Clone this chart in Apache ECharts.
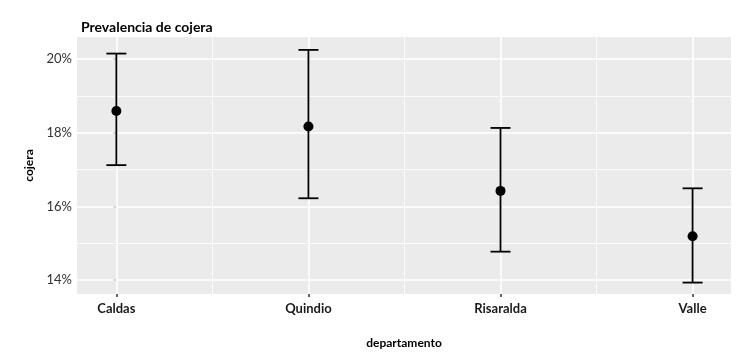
<!DOCTYPE html>
<html>
<head>
<meta charset="utf-8">
<script src="https://cdn.jsdelivr.net/npm/echarts@6/dist/echarts.min.js"></script>
<style>
  html, body { margin: 0; padding: 0; background: #fff; }
  #chart { width: 741px; height: 354px; }
</style>
</head>
<body>
<div id="chart"></div>
<script>
// data
const departamentos = ["Caldas", "Quindio", "Risaralda", "Valle"];
const prevalencia = [18.59, 18.17, 16.42, 15.19];
const limInferior = [17.12, 16.22, 14.77, 13.93];
const limSuperior = [20.15, 20.25, 18.13, 16.49];
const yTicks = [14, 16, 18, 20];
const yMinor = [15, 17, 19];

const xIdx = departamentos.map((d, i) => i);
const xMinor = [0.5, 1.5, 2.5];

let mychart = echarts.init(document.getElementById("chart"));

const gridLines = [];
yTicks.forEach(v => gridLines.push({ yAxis: v, lineStyle: { width: 1.6 } }));
yMinor.forEach(v => gridLines.push({ yAxis: v, lineStyle: { width: 0.8 } }));
xIdx.forEach(v => gridLines.push({ xAxis: v, lineStyle: { width: 1.6 } }));
xMinor.forEach(v => gridLines.push({ xAxis: v, lineStyle: { width: 0.8 } }));

let option = {
  animation: false,
  textStyle: { fontFamily: "Lato" },
  title: {
    text: "Prevalencia de cojera",
    left: 76,
    top: 15,
    textStyle: { fontSize: 14, fontWeight: "bold", color: "#000", fontFamily: "Lato" }
  },
  grid: {
    left: 77, right: 10, top: 37, bottom: 59,
    show: true, backgroundColor: "#EBEBEB", borderWidth: 0
  },
  xAxis: {
    type: "value",
    min: -0.205,
    max: 3.2,
    name: "departamento",
    nameLocation: "middle",
    nameGap: 43,
    nameTextStyle: { fontSize: 12, fontWeight: "bold", color: "#000" },
    axisLine: { show: false },
    splitLine: { show: false },
    axisTick: { show: true, customValues: xIdx, length: 3, lineStyle: { color: "#333", width: 1.5 } },
    axisLabel: {
      customValues: xIdx,
      formatter: v => departamentos[Math.round(v)],
      fontSize: 13, fontWeight: "bold", color: "#1a1a1a", margin: 8
    }
  },
  yAxis: {
    type: "value",
    min: 13.62,
    max: 20.6,
    name: "cojera",
    nameLocation: "middle",
    nameGap: 40,
    nameTextStyle: { fontSize: 12, fontWeight: "bold", color: "#000" },
    axisLine: { show: false },
    splitLine: { show: false },
    axisTick: { show: true, customValues: yTicks, length: 3, lineStyle: { color: "#333", width: 1.5 } },
    axisLabel: {
      customValues: yTicks,
      formatter: v => v + "%",
      fontSize: 13, color: "#333", margin: 5
    }
  },
  series: [
    {
      type: "custom",
      z: 3,
      renderItem: function (params, api) {
        const x = api.value(0);
        const lo = api.coord([x, api.value(1)]);
        const hi = api.coord([x, api.value(2)]);
        const hw = 10;
        const st = { stroke: "#000", lineWidth: 1.8 };
        return {
          type: "group",
          children: [
            { type: "line", shape: { x1: lo[0], y1: lo[1], x2: hi[0], y2: hi[1] }, style: st },
            { type: "line", shape: { x1: lo[0] - hw, y1: lo[1], x2: lo[0] + hw, y2: lo[1] }, style: st },
            { type: "line", shape: { x1: hi[0] - hw, y1: hi[1], x2: hi[0] + hw, y2: hi[1] }, style: st }
          ]
        };
      },
      data: xIdx.map(i => [i, limInferior[i], limSuperior[i]])
    },
    {
      type: "scatter",
      z: 4,
      symbolSize: 10,
      itemStyle: { color: "#000", opacity: 1 },
      data: xIdx.map(i => [i, prevalencia[i]]),
      markLine: {
        silent: true,
        symbol: "none",
        label: { show: false },
        z: 1,
        lineStyle: { color: "#fff", type: "solid", opacity: 1 },
        data: gridLines
      }
    }
  ]
};
mychart.setOption(option);
</script>
</body>
</html>
